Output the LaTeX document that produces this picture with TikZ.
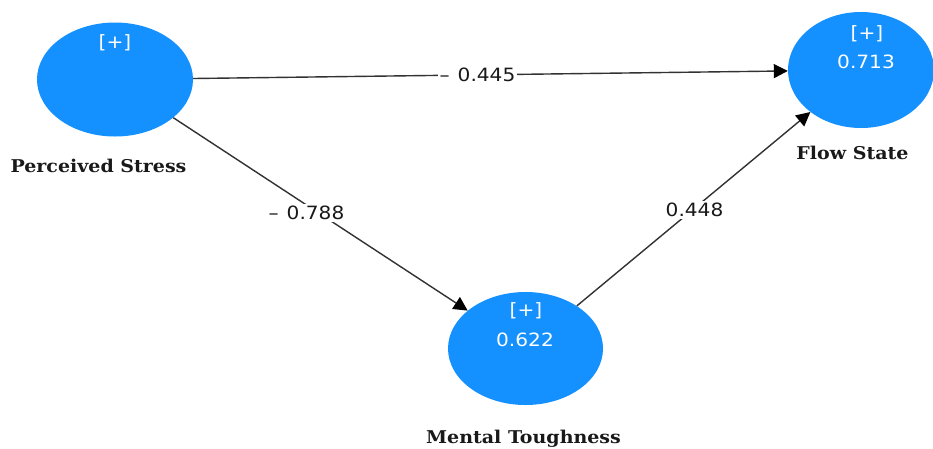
\documentclass[tikz,border=0pt]{standalone}
\usepackage{fontspec}
\usetikzlibrary{shapes.geometric,arrows.meta}
\newfontfamily\numfont[FakeStretch=1.1]{DejaVu Sans}
\newfontfamily\lblfont[FakeStretch=1.08]{DejaVu Serif}
\definecolor{lvblue}{RGB}{20,145,255}
\definecolor{linegray}{RGB}{50,50,50}
\begin{document}
\begin{tikzpicture}[x=1pt,y=-1pt,
  lv/.style={ellipse, fill=lvblue, draw=none, inner sep=0pt},
  intext/.style={text=white, font=\numfont\fontsize{18.3}{21}\selectfont, inner sep=0pt},
  vname/.style={font=\lblfont\bfseries\fontsize{17.6}{20}\selectfont, text=black!90, inner sep=0pt, anchor=base},
  elab/.style={fill=white, font=\numfont\fontsize{18.3}{21}\selectfont, text=black!90, inner sep=2pt},
  conn/.style={draw=linegray, line width=1.4pt, -{Triangle[length=14pt,width=14pt,color=black]}}
]
\useasboundingbox[fill=white] (0,0) rectangle (933,448);

% latent variables
\node[lv, minimum width=156pt, minimum height=114pt] (ps) at (115,79.5) {};
\node[lv, minimum width=146pt, minimum height=116pt] (fs) at (861,70) {};
\node[lv, minimum width=155pt, minimum height=113pt] (mt) at (525.5,348.5) {};

% inner texts
\node[intext] (psplus) at (115,43) {[+]};
\node[intext] (fsplus) at (867,34) {[+]};
\node[intext] (fsval) at (866,62) {0.713};
\node[intext] (mtplus) at (526,311) {[+]};
\node[intext] (mtval) at (525,340) {0.622};

% names
\node[vname] (psname) at (98.5,172) {Perceived Stress};
\node[vname] (fsname) at (852.5,159) {Flow State};
\node[vname] (mtname) at (523.5,443) {Mental Toughness};

% connectors
\draw[conn] (ps) -- (fs);
\draw[conn] (ps) -- (mt);
\draw[conn] (mt) -- (fs);

% path coefficients
\node[elab] (l1) at (477.5,74.5) {–\hspace{8pt}0.445};
\node[elab] (l2) at (306.5,213) {–\hspace{8pt}0.788};
\node[elab] (l3) at (694.5,210) {0.448};
\end{tikzpicture}
\end{document}
